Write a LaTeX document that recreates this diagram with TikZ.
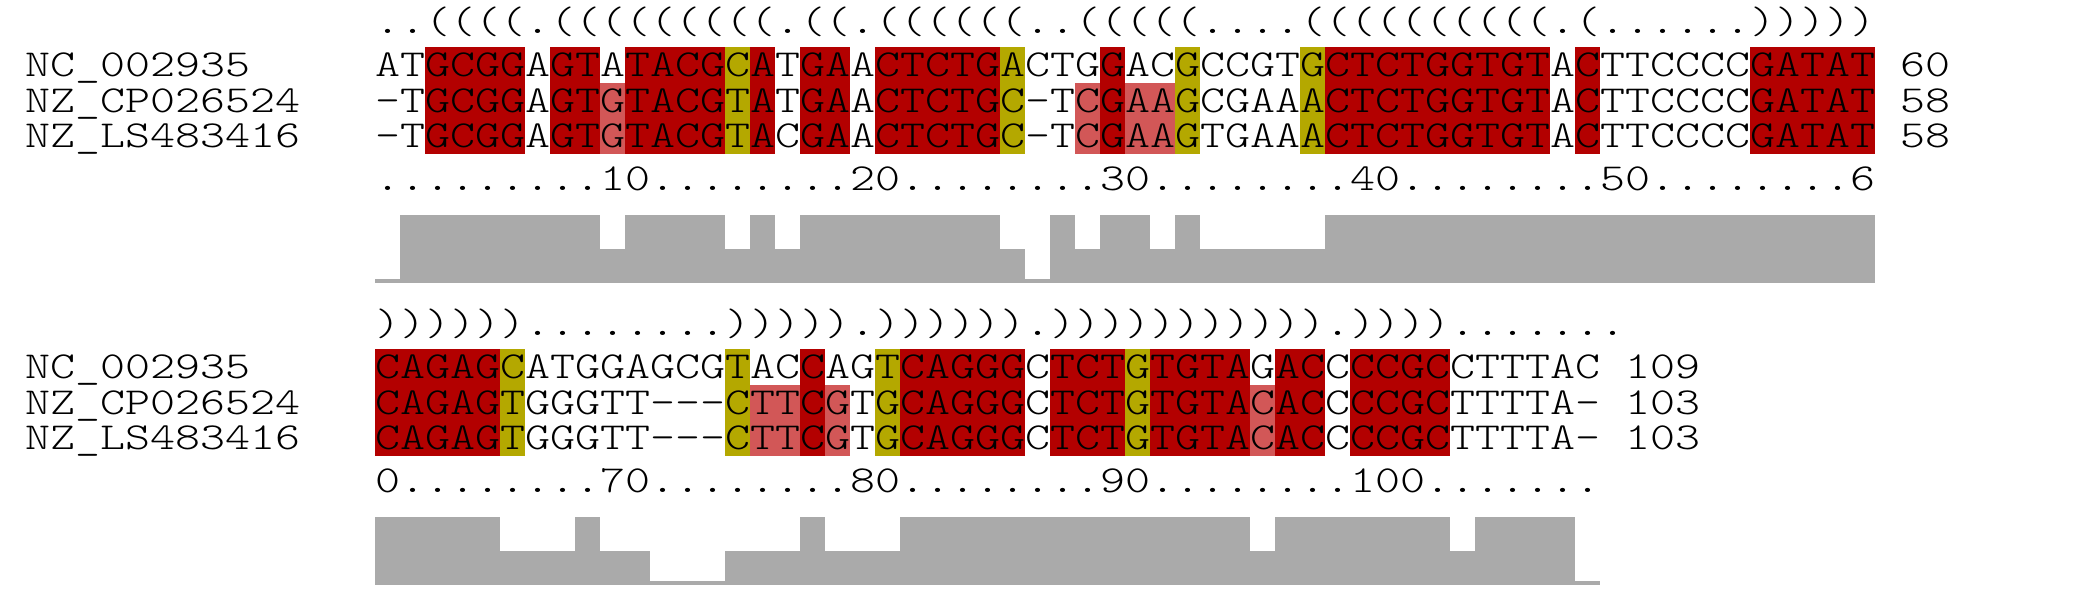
\documentclass[tikz,border=0pt]{standalone}
\usepackage{fontspec}
\setmonofont{lmmonolt10-regular.otf}[FakeStretch=1.25]
\usepackage{xcolor}
\usepackage{tikz}

\definecolor{pairred}{HTML}{B30000}
\definecolor{halfred}{HTML}{D25757}
\definecolor{covyellow}{HTML}{B4A800}
\definecolor{bargray}{HTML}{AAAAAA}

\begin{document}
\begin{tikzpicture}[
      x=0.5pt, y=-0.5pt,
      seq/.style={
          anchor=base west, inner sep=0pt,
          font=\ttfamily\fontsize{19.05}{24}\selectfont
      },
      pair/.style={fill=pairred},
      half/.style={fill=halfred},
      cons/.style={fill=covyellow},
      bar/.style={fill=bargray}
  ]
  \useasboundingbox (0,0) rectangle (2075,612);

  % Block 1: alignment columns 1-60
  \foreach \a/\b in {3/6, 8/9, 11/14, 16/16, 18/19, 21/25, 30/30, 39/47, 49/49, 56/60}{
      \fill[pair] ({375+25*(\a-1)},47) rectangle ({375+25*\b},153.5);
  }
  \foreach \a/\b in {15/15, 26/26, 33/33, 38/38}{
      \fill[cons] ({375+25*(\a-1)},47) rectangle ({375+25*\b},153.5);
  }
  \foreach \a/\b in {10/10, 29/29, 31/32}{
      \fill[half] ({375+25*(\a-1)},82.5) rectangle ({375+25*\b},153.5);
  }
  \node[seq] (S1) at (375,33) {..((((.(((((((((.((.((((((..(((((....((((((((((.(......)))))};
  \node[seq] (N1a) at (25,76.5) {NC\_002935};
  \node[seq] (N1b) at (25,112) {NZ\_CP026524};
  \node[seq] (N1c) at (25,147.5) {NZ\_LS483416};
  \node[seq] (Q1a) at (375,76.5) {ATGCGGAGTATACGCATGAACTCTGACTGGACGCCGTGCTCTGGTGTACTTCCCCGATAT};
  \node[seq] (Q1b) at (375,112) {-TGCGGAGTGTACGTATGAACTCTGC-TCGAAGCGAAACTCTGGTGTACTTCCCCGATAT};
  \node[seq] (Q1c) at (375,147.5) {-TGCGGAGTGTACGTACGAACTCTGC-TCGAAGTGAAACTCTGGTGTACTTCCCCGATAT};
  \node[seq] (E1a) at (1900,76.5) {60};
  \node[seq] (E1b) at (1900,112) {58};
  \node[seq] (E1c) at (1900,147.5) {58};
  \node[seq] (R1) at (375,190) {.........10........20........30........40........50........6};
  \foreach \a/\b/\h in {1/1/4.5, 2/9/68, 10/10/34, 11/14/68, 15/15/34, 16/16/68, 17/17/34,
      18/25/68, 26/26/34, 27/27/4.5, 28/28/68, 29/29/34, 30/31/68, 32/32/34, 33/33/68,
      34/38/34, 39/60/68}{
      \fill[bar] ({375+25*(\a-1)},283) rectangle ({375+25*\b},{283-\h});
  }

  % Block 2: alignment columns 61-109
  \begin{scope}[shift={(0,302)}]
  \foreach \a/\b in {1/5, 18/18, 22/26, 28/30, 32/35, 37/38, 40/43}{
      \fill[pair] ({375+25*(\a-1)},47) rectangle ({375+25*\b},153.5);
  }
  \foreach \a/\b in {6/6, 15/15, 21/21, 31/31}{
      \fill[cons] ({375+25*(\a-1)},47) rectangle ({375+25*\b},153.5);
  }
  \foreach \a/\b in {16/17, 19/19, 36/36}{
      \fill[half] ({375+25*(\a-1)},82.5) rectangle ({375+25*\b},153.5);
  }
  \node[seq] (S2) at (375,33) {))))))........))))).)))))).))))))))))).)))).......};
  \node[seq] (N2a) at (25,76.5) {NC\_002935};
  \node[seq] (N2b) at (25,112) {NZ\_CP026524};
  \node[seq] (N2c) at (25,147.5) {NZ\_LS483416};
  \node[seq] (Q2a) at (375,76.5) {CAGAGCATGGAGCGTACCAGTCAGGGCTCTGTGTAGACCCCGCCTTTAC};
  \node[seq] (Q2b) at (375,112) {CAGAGTGGGTT---CTTCGTGCAGGGCTCTGTGTACACCCCGCTTTTA-};
  \node[seq] (Q2c) at (375,147.5) {CAGAGTGGGTT---CTTCGTGCAGGGCTCTGTGTACACCCCGCTTTTA-};
  \node[seq] (E2a) at (1625,76.5) {109};
  \node[seq] (E2b) at (1625,112) {103};
  \node[seq] (E2c) at (1625,147.5) {103};
  \node[seq] (R2) at (375,190) {0........70........80........90........100.......};
  \foreach \a/\b/\h in {1/5/68, 6/8/34, 9/9/68, 10/11/34, 12/14/4.5, 15/17/34, 18/18/68,
      19/21/34, 22/35/68, 36/36/34, 37/43/68, 44/44/34, 45/48/68, 49/49/4.5}{
      \fill[bar] ({375+25*(\a-1)},283) rectangle ({375+25*\b},{283-\h});
  }
  \end{scope}
\end{tikzpicture}
\end{document}
